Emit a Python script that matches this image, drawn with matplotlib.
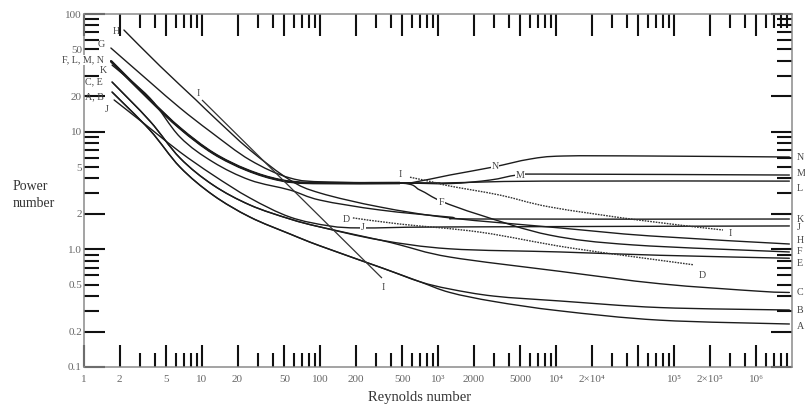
import matplotlib
matplotlib.use('Agg')
import numpy as np
import matplotlib.pyplot as plt
from matplotlib.path import Path
from matplotlib.patches import PathPatch
from matplotlib.ticker import LogLocator, NullFormatter, FixedLocator, FixedFormatter
from matplotlib.transforms import blended_transform_factory

plt.rcParams['font.family'] = ['Liberation Serif', 'DejaVu Serif']
plt.rcParams['mathtext.fontset'] = 'stix'

# ---------------- data ----------------
re_lam_FLMN = [1.69, 3.62, 6.51, 12.4, 24.1, 45.8, 87.3, 476]
np_lam_FLMN = [39.8, 18.6, 10.7, 6.58, 4.72, 3.88, 3.66, 3.66]

re_N = re_lam_FLMN + [638, 1260, 2920, 6030, 11500, 62600, 950000]
np_N = np_lam_FLMN + [3.73, 4.28, 5.0, 5.85, 6.21, 6.21, 6.09]

re_M = re_lam_FLMN + [1260, 2760, 4670, 7760, 950000]
np_M = np_lam_FLMN + [3.62, 3.88, 4.28, 4.36, 4.28]

re_L = re_lam_FLMN + [1040, 7760, 950000]
np_L = np_lam_FLMN + [3.66, 3.80, 3.80]

re_F = re_lam_FLMN + [704, 1060, 2270, 8890, 45000, 950000]
np_F = np_lam_FLMN + [3.19, 2.57, 1.96, 1.32, 1.09, 0.95]

re_G = [1.69, 3.62, 6.51, 11.9, 25.5, 55.7, 121, 1040]
np_G = [51.4, 26.4, 15.9, 9.93, 5.74, 4.04, 3.73, 3.66]

re_H = [2.18, 4.41, 8.89, 12.6, 25.5, 55.7, 100, 322, 1260, 10800, 62600, 950000]
np_H = [73.1, 36.1, 18.6, 13.3, 6.98, 3.88, 3.01, 2.29, 1.85, 1.52, 1.30, 1.11]

re_K = [1.73, 3.62, 6.51, 12.4, 25.5, 55.7, 100, 322, 1260, 2270, 950000]
np_K = [36.8, 19.3, 9.0, 5.52, 3.88, 3.19, 2.62, 2.16, 1.88, 1.81, 1.81]

re_J = [1.80, 3.62, 6.51, 12.4, 25.5, 55.7, 121, 231, 1260, 950000]
np_J = [18.6, 10.7, 6.71, 4.28, 2.73, 1.88, 1.58, 1.52, 1.55, 1.58]

re_C = [1.73, 3.62, 6.51, 12.4, 25.5, 55.7, 100, 322, 476, 1260, 10800, 76000, 536000, 950000]
np_C = [26.4, 12.3, 5.97, 3.52, 2.38, 1.81, 1.55, 1.20, 1.09, 0.86, 0.65, 0.51, 0.44, 0.43]

re_E = [1.73, 3.62, 6.51, 12.4, 25.5, 55.7, 100, 322, 1260, 10800, 76000, 950000]
np_E = [26.4, 12.3, 5.97, 3.52, 2.38, 1.81, 1.55, 1.20, 1.01, 0.95, 0.89, 0.84]

re_A = [1.73, 3.62, 6.51, 12.4, 25.5, 55.7, 100, 342, 704, 1260, 3000, 10800, 76000, 950000]
np_A = [21.7, 10.3, 5.0, 2.89, 1.88, 1.35, 1.07, 0.69, 0.53, 0.43, 0.36, 0.30, 0.25, 0.232]

re_B = [1.73, 3.62, 6.51, 12.4, 25.5, 55.7, 100, 342, 704, 1260, 3000, 10800, 76000, 950000]
np_B = [21.7, 10.3, 5.0, 2.89, 1.88, 1.35, 1.07, 0.69, 0.53, 0.46, 0.40, 0.364, 0.32, 0.305]

re_D = [190, 476, 2270, 13100, 145000]
np_D = [1.85, 1.64, 1.40, 1.03, 0.74]

re_I_lam = [10.0, 335]
np_I_lam = [18.6, 0.57]
re_I_turb = [579, 908, 1260, 3350, 8890, 48600, 260000]
np_I_turb = [4.1, 3.73, 3.45, 2.89, 2.29, 1.78, 1.46]

x_tick_vals = [1, 2, 5, 10, 20, 50, 100, 200, 500, 1e3, 2e3, 5e3, 1e4, 2e4, 5e4, 1e5, 2e5, 5e5]
x_tick_labels = ['1', '2', '5', '10', '20', '50', '100', '200', '500', '10³', '2000', '5000',
                 '10⁴', '2×10⁴', '', '10⁵', '2×10⁵', '10⁶']
y_tick_vals = [0.1, 0.2, 0.5, 1, 2, 5, 10, 20, 50, 100]
y_tick_labels = ['0.1', '0.2', '0.5', '1.0', '2', '5', '10', '20', '50', '100']

# curve-end labels on the right (letter, Np where the label sits)
right_labels = ['N', 'M', 'L', 'K', 'J', 'H', 'F', 'E', 'C', 'B', 'A']
right_label_np = [6.09, 4.45, 3.32, 1.81, 1.52, 1.18, 0.95, 0.76, 0.43, 0.30, 0.22]


# ---------------- helpers ----------------
def smooth_line(ax, xs, ys, **kw):
    """Draw a smooth (Catmull-Rom Bezier, in log-log space) curve through the points."""
    lx = np.log10(np.asarray(xs, float))
    ly = np.log10(np.asarray(ys, float))
    P = np.column_stack([lx, ly])
    n = len(P)
    if n < 3:
        verts = [tuple(10 ** P[0]), tuple(10 ** P[1])]
        codes = [Path.MOVETO, Path.LINETO]
    else:
        ext = np.vstack([P[0], P, P[-1]])
        verts = [tuple(10 ** P[0])]
        codes = [Path.MOVETO]
        for i in range(n - 1):
            p0, p1, p2, p3 = ext[i], ext[i + 1], ext[i + 2], ext[i + 3]
            c1 = p1 + (p2 - p0) / 6.0
            c2 = p2 - (p3 - p1) / 6.0
            verts += [tuple(10 ** c1), tuple(10 ** c2), tuple(10 ** p2)]
            codes += [Path.CURVE4] * 3
    patch = PathPatch(Path(verts, codes), facecolor='none', **kw)
    ax.add_patch(patch)
    return patch


# ---------------- drawing ----------------
fig = plt.figure(figsize=(8.05, 4.05), dpi=100)
ax = fig.add_axes([84 / 805, 1 - 367 / 405, 708 / 805, 353 / 405])
ax.set_xscale('log')
ax.set_yscale('log')
ax.set_xlim(1, 1e6)
ax.set_ylim(0.1, 100)

lc = '#1c1c1c'
solid = [(re_N, np_N), (re_M, np_M), (re_L, np_L), (re_F, np_F), (re_G, np_G),
         (re_H, np_H), (re_K, np_K), (re_J, np_J), (re_C, np_C), (re_E, np_E),
         (re_A, np_A), (re_B, np_B)]
for xs, ys in solid:
    smooth_line(ax, xs, ys, edgecolor=lc, lw=1.0, capstyle='round')
# heavier common laminar branch of F, L, M, N
smooth_line(ax, re_lam_FLMN, np_lam_FLMN, edgecolor=lc, lw=1.9)
smooth_line(ax, re_I_lam, np_I_lam, edgecolor='#333333', lw=0.9)
smooth_line(ax, re_I_turb, np_I_turb, edgecolor='#333333', lw=1.0, linestyle=(0, (1.2, 0.8)))
smooth_line(ax, re_D, np_D, edgecolor='#333333', lw=1.0, linestyle=(0, (1.2, 0.8)))

# in-plot labels
tc = '#444444'
bb = dict(facecolor='white', edgecolor='none', pad=0.6)
fs = 7.2
ax.text(1.87, 71.6, 'H', fontsize=fs, color=tc, ha='center', va='center')
ax.text(1.39, 54.6, 'G', fontsize=fs, color=tc, ha='center', va='center')
ax.text(1.47, 40.6, 'F, L, M, N', fontsize=fs, color=tc, ha='right', va='center',
        bbox=bb, zorder=6, clip_on=False)
ax.text(1.37, 33.4, 'K', fontsize=fs, color=tc, ha='left', va='center')
ax.text(1.44, 26.4, 'C, E', fontsize=fs, color=tc, ha='right', va='center')
ax.text(1.47, 19.7, 'A, B', fontsize=fs, color=tc, ha='right', va='center')
ax.text(1.57, 15.3, 'J', fontsize=fs, color=tc, ha='center', va='center')
ax.text(9.25, 21.3, 'I', fontsize=fs, color=tc, ha='center', va='center', bbox=bb)
ax.text(476, 4.36, 'I', fontsize=fs, color=tc, ha='center', va='center', bbox=bb)
ax.text(3040, 5.1, 'N', fontsize=fs, color=tc, ha='center', va='center', bbox=bb)
ax.text(4950, 4.28, 'M', fontsize=fs, color=tc, ha='center', va='center', bbox=bb)
ax.text(1060, 2.48, 'F', fontsize=fs, color=tc, ha='center', va='center', bbox=bb)
ax.text(166, 1.81, 'D', fontsize=fs, color=tc, ha='center', va='center', bbox=bb)
ax.text(231, 1.52, 'J', fontsize=fs, color=tc, ha='center', va='center', bbox=bb)
ax.text(342, 0.47, 'I', fontsize=fs, color=tc, ha='center', va='center', bbox=bb)
ax.text(173000, 0.605, 'D', fontsize=fs, color=tc, ha='center', va='center')
ax.text(298000, 1.35, 'I', fontsize=fs, color=tc, ha='center', va='center')

trans = blended_transform_factory(ax.transAxes, ax.transData)
for lab, yv in zip(right_labels, right_label_np):
    ax.text(1.0065, yv, lab, transform=trans, fontsize=fs, color=tc,
            ha='left', va='center', clip_on=False)

# axes styling
for sp in ax.spines.values():
    sp.set_color('#8a8a8a')
    sp.set_linewidth(1.1)

ax.xaxis.set_major_locator(FixedLocator(x_tick_vals))
ax.xaxis.set_major_formatter(FixedFormatter(x_tick_labels))
ax.xaxis.set_minor_locator(LogLocator(base=10, subs=(3, 4, 6, 7, 8, 9), numticks=20))
ax.xaxis.set_minor_formatter(NullFormatter())
ax.yaxis.set_major_locator(FixedLocator(y_tick_vals))
ax.yaxis.set_major_formatter(FixedFormatter(y_tick_labels))
ax.yaxis.set_minor_locator(LogLocator(base=10, subs=(3, 4, 6, 7, 8, 9), numticks=20))
ax.yaxis.set_minor_formatter(NullFormatter())

ax.tick_params(which='both', direction='in', top=True, right=True,
               color='#111111', width=1.5, labelsize=8, labelcolor='#666666')
ax.tick_params(axis='x', which='major', length=16, pad=6)
ax.tick_params(axis='x', which='minor', length=10)
ax.tick_params(axis='y', which='major', length=15, pad=1.5)
ax.tick_params(axis='y', which='minor', length=11)
for t, v in zip(ax.yaxis.get_major_ticks(), y_tick_vals):
    if str(v).lstrip('0.').startswith('5'):
        t.tick1line.set_markersize(11)
        t.tick2line.set_markersize(11)

fig.text(13 / 805, 1 - 186 / 405, 'Power', fontsize=10, color='#333333', ha='left', va='center')
fig.text(13 / 805, 1 - 204 / 405, 'number', fontsize=10, color='#333333', ha='left', va='center')
fig.text(420 / 805, 1 - 397 / 405, 'Reynolds number', fontsize=10.5, color='#333333',
         ha='center', va='center')

fig.savefig('out.png', dpi=100)
